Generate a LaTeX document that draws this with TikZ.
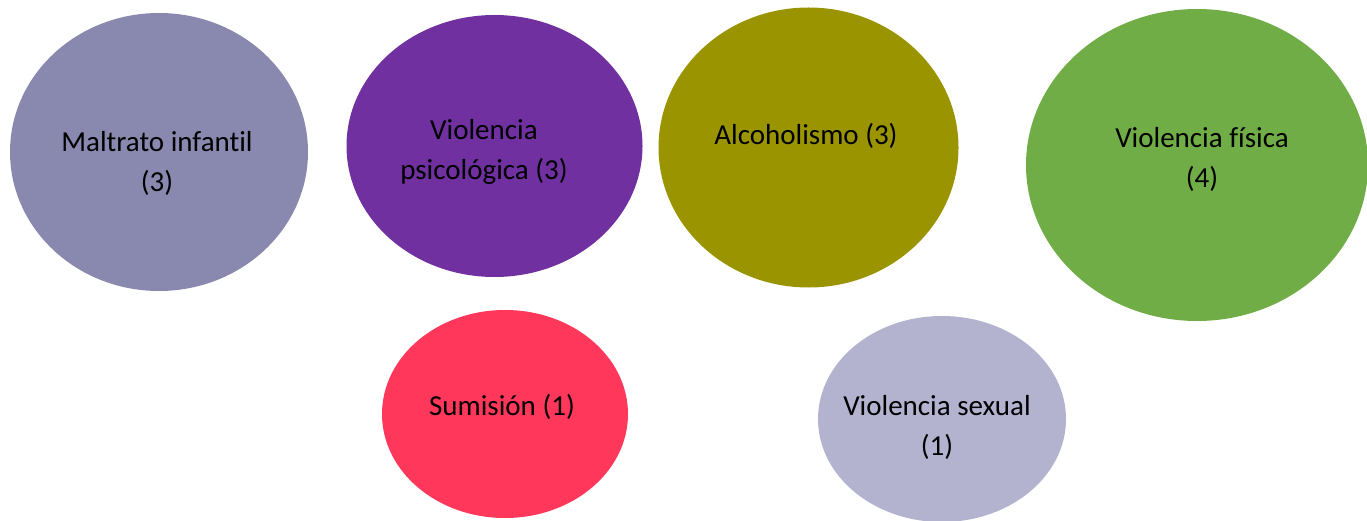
\documentclass[tikz,border=0pt]{standalone}
\usepackage{fontspec}
\setmainfont{Carlito}[Ligatures=NoCommon]
\usetikzlibrary{shapes.geometric}

\definecolor{maltrato}{RGB}{137,136,175}
\definecolor{psico}{RGB}{112,48,160}
\definecolor{alcohol}{RGB}{153,148,0}
\definecolor{fisica}{RGB}{112,173,71}
\definecolor{sumision}{RGB}{255,55,91}
\definecolor{sexual}{RGB}{179,179,208}

\begin{document}
\begin{tikzpicture}[x=1pt, y=-1pt,
    blob/.style={ellipse, draw=none, inner sep=0pt},
    lbl/.style={anchor=base, align=center, inner sep=0pt, font=\fontsize{29}{40}\selectfont}]
        \useasboundingbox (0,0) rectangle (1367,521);
        % circles
        \node[blob, fill=maltrato, minimum width=298pt, minimum height=278pt] (m) at (159,152) {};
        \node[blob, fill=psico, minimum width=296pt, minimum height=262pt] (p) at (494.5,146) {};
        \node[blob, fill=alcohol, minimum width=300pt, minimum height=280pt] (a) at (808.5,147.5) {};
        \node[blob, fill=fisica, minimum width=342pt, minimum height=312pt] (f) at (1197,165) {};
        \node[blob, fill=sumision, minimum width=246pt, minimum height=208pt] (s) at (505,414) {};
        \node[blob, fill=sexual, minimum width=248pt, minimum height=206pt] (x) at (942,419) {};
        % labels (base = last line)
        \node[lbl] (mt) at (157,192) {Maltrato infantil\\(3)};
        \node[lbl] (pt) at (484,180) {Violencia\\psicológica (3)};
        \node[lbl] (at) at (806,145) {Alcoholismo (3)};
        \node[lbl] (ft) at (1202,188) {Violencia física\\(4)};
        \node[lbl] (st) at (502,415) {Sumisión (1)};
        \node[lbl] (xt) at (937,455) {Violencia sexual\\(1)};
\end{tikzpicture}
\end{document}
